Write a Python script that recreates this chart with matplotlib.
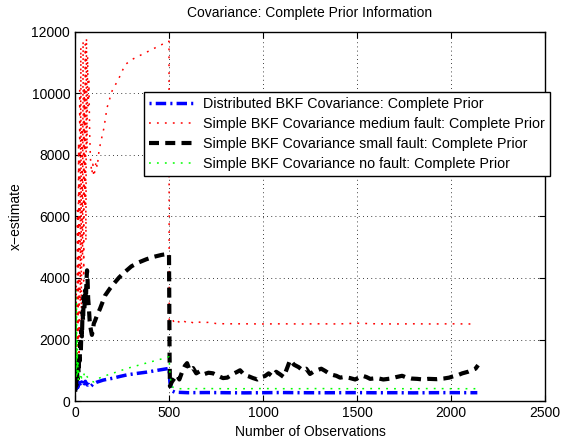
import matplotlib
matplotlib.use('Agg')
import matplotlib.pyplot as plt

plt.rcParams['font.family'] = ['Liberation Sans', 'DejaVu Sans']

# distributed BKF estimate
blue_x = [1, 4, 8, 12, 16, 20, 25, 30, 35, 40, 45, 50, 55, 60, 66, 72, 80, 88, 96,
          105, 115, 130, 150, 175, 200, 240, 277, 320, 383, 440, 500,
          505, 515, 530, 560, 600, 700, 800, 900, 1000, 1100, 1200, 1300, 1400,
          1500, 1600, 1700, 1800, 1900, 2000, 2100, 2140]
blue_y = [500, 700, 400, 650, 450, 600, 550, 480, 620, 520, 600, 560, 640, 580, 520, 540, 460, 500, 560,
          580, 610, 640, 680, 710, 740, 800, 850, 890, 940, 1000, 1060,
          600, 330, 290, 280, 270, 275, 270, 265, 270, 275, 270, 268, 270,
          272, 268, 270, 265, 270, 272, 270, 270]

# simple BKF, medium fault
red_x = [1, 4, 7, 10, 13, 16, 19, 22, 25, 28, 31, 34, 37, 40, 43, 46, 49, 52, 55, 58,
         61, 64, 67, 70, 74, 78, 82, 86, 90, 95, 100, 106, 112, 118, 128, 140, 154, 170,
         197, 234, 266, 298, 340, 383, 425, 468, 500,
         501, 510, 520, 530, 545, 560, 575, 590, 610, 630, 650, 680, 710, 750, 800,
         900, 1000, 1100, 1200, 1300, 1400, 1500, 1600, 1700, 1800, 1900, 2000, 2100, 2135]
red_y = [1500, 400, 3800, 900, 6200, 1800, 8400, 1200, 10100, 3200, 11500, 2600, 9000, 4700, 11700, 3900, 10200, 6300, 11600, 5200,
         11800, 8200, 11200, 9600, 10400, 8700, 7900, 7600, 7400, 7700, 7300, 7500, 7800, 7600, 8160, 8500, 8880, 9530,
         10080, 10500, 10930, 11090, 11220, 11350, 11480, 11610, 11700,
         2620, 2560, 2640, 2520, 2600, 2540, 2620, 2560, 2600, 2530, 2580, 2540, 2560, 2520, 2510,
         2510, 2505, 2510, 2505, 2510, 2505, 2530, 2510, 2505, 2510, 2505, 2510, 2505, 2510]

# simple BKF, small fault
blk_x = [1, 4, 7, 10, 13, 16, 19, 22, 25, 28, 31, 34, 37, 40, 43, 46, 50, 54, 58, 61, 64, 67,
         70, 74, 78, 82, 86, 90, 95, 100, 106, 115, 133, 160, 185, 207, 235, 266, 300, 340,
         380, 420, 460, 500,
         503, 505, 515, 530, 542, 555, 570, 585, 596, 610, 628, 645, 665, 690, 710, 734, 760,
         787, 810, 840, 860, 878, 900, 925, 947, 970, 990, 1010, 1030, 1050, 1070, 1090, 1110,
         1130, 1144, 1165, 1190, 1210, 1230, 1250, 1270, 1287, 1310, 1330, 1350, 1370, 1390,
         1410, 1430, 1463, 1490, 1510, 1530, 1550, 1570, 1606, 1640, 1680, 1710, 1740, 1760,
         1790, 1820, 1850, 1880, 1925, 1960, 1990, 2010, 2040, 2060, 2090, 2110, 2130, 2144]
blk_y = [300, 800, 500, 1100, 700, 1400, 900, 1500, 1300, 1900, 1600, 2300, 2100, 2900, 2600, 3400, 3000, 3600, 3300, 3900, 4250, 3900,
         3330, 3000, 2600, 2400, 2270, 2150, 2300, 2520, 2600, 2750, 3000, 3430, 3650, 3820, 4020, 4200, 4380, 4510,
         4610, 4690, 4750, 4790,
         1500, 480, 620, 750, 840, 700, 950, 1150, 1230, 1000, 1070, 900, 970, 880, 920, 900, 820,
         745, 760, 880, 940, 1000, 850, 800, 745, 700, 780, 810, 900, 800, 950, 870, 780,
         1100, 1330, 1180, 1100, 1000, 1050, 880, 960, 1000, 1050, 980, 900, 850, 820,
         760, 780, 745, 700, 760, 820, 780, 720, 745, 700, 730, 780, 820, 770,
         730, 720, 700, 720, 710, 730, 760, 800, 850, 900, 950, 1000, 1050, 1165]

# simple BKF, no fault
grn_x = [1, 2, 3, 4, 5, 6, 7, 8, 9, 10, 11, 12, 14, 16, 18, 20, 25, 30, 35, 40, 45, 50, 55,
         60, 70, 80, 90, 100, 120, 150, 200, 277, 383, 450, 500,
         505, 510, 520, 540, 600, 700, 800, 900, 1000, 1100, 1200, 1300, 1400, 1500, 1600,
         1700, 1800, 1900, 2000, 2100, 2140]
grn_y = [600, 2500, 900, 3600, 1200, 2800, 700, 3200, 1500, 2000, 800, 1600, 900, 1300, 700, 1000, 780, 900, 750, 850, 800, 900, 780,
         820, 750, 680, 640, 620, 720, 800, 900, 1060, 1240, 1350, 1440,
         900, 600, 450, 400, 400, 405, 400, 400, 405, 400, 400, 405, 400, 400, 405,
         400, 400, 405, 400, 400, 400]

fig = plt.figure(figsize=(5.61, 4.43), dpi=100)
ax = fig.add_axes([0.1337, 0.0948, 0.8378, 0.833])

ax.plot(blue_x, blue_y, color='blue', linestyle=(0, (0.6, 1.2, 3.0, 1.2)), linewidth=2.5,
        label='Distributed BKF Covariance: Complete Prior')
ax.plot(red_x, red_y, color='red', linestyle=(0, (1.2, 4)), linewidth=1.1,
        label='Simple BKF Covariance medium fault: Complete Prior')
ax.plot(blk_x, blk_y, color='black', linestyle=(0, (2.4, 1.5)), linewidth=3,
        label='Simple BKF Covariance small fault: Complete Prior')
ax.plot(grn_x, grn_y, color='#00ff00', linestyle=(0, (1.2, 4)), linewidth=1.1,
        label='Simple BKF Covariance no fault: Complete Prior')

ax.set_xlim(0, 2500)
ax.set_ylim(0, 12000)
ax.set_xticks(range(0, 2501, 500))
ax.set_yticks(range(0, 12001, 2000))
ax.tick_params(direction='in', top=True, right=True, labelsize=10, length=4)
ax.grid(True, color='black', linestyle=(0, (1, 4)), linewidth=0.6)
for s in ax.spines.values():
    s.set_linewidth(1)

ax.set_xlabel('Number of Observations', fontsize=10, labelpad=4)
ax.set_ylabel('x\u2212estimate', fontsize=10, labelpad=6)
ax.set_title('Covariance: Complete Prior Information', fontsize=10, pad=11)

leg = ax.legend(loc='upper left', bbox_to_anchor=(0.147, 0.837), fontsize=10.3,
                handlelength=3.3, borderaxespad=0, fancybox=False, framealpha=1,
                edgecolor='black', borderpad=0.35, labelspacing=0.42, handletextpad=0.45)
leg.get_frame().set_linewidth(1)

fig.savefig('out.png', dpi=100)
